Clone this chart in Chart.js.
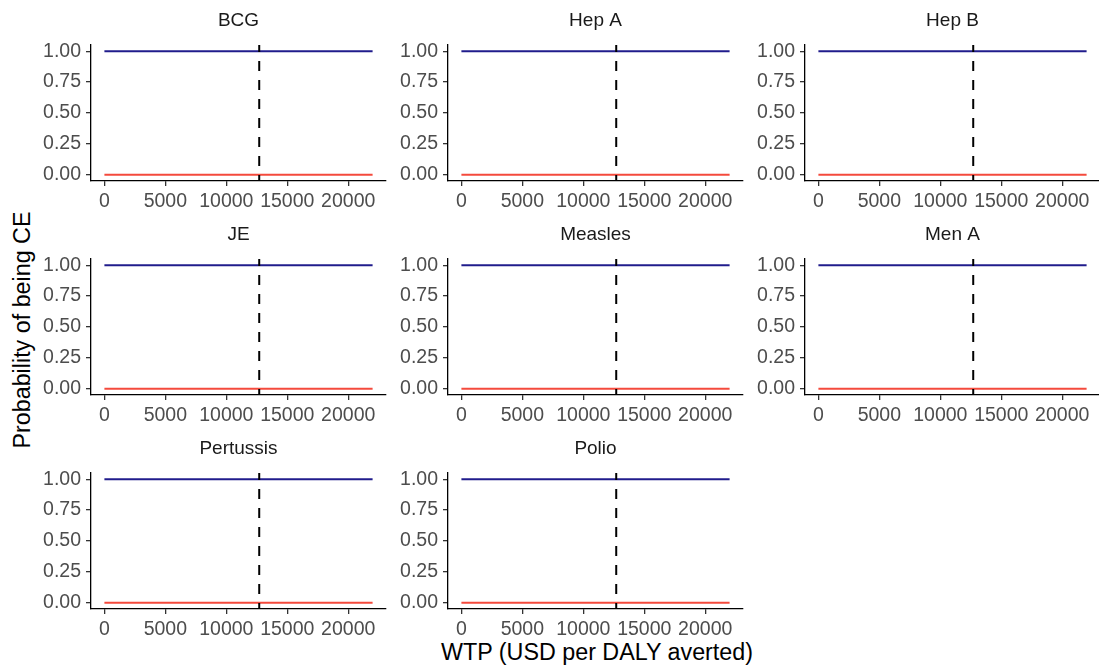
<!DOCTYPE html>
<html>
<head>
<meta charset="utf-8">
<script src="https://cdn.jsdelivr.net/npm/chart.js@4"></script>
<style>
  body { margin: 0; background: #fff; overflow: hidden; width: 1099px; height: 666px; position: relative; }
  .panel { position: absolute; }
  .axis-title { position: absolute; font-family: "Liberation Sans", Arial, sans-serif; font-size: 23.3px; color: #000; white-space: nowrap; }
</style>
</head>
<body>
<div class="axis-title" id="ytitle">Probability of being CE</div>
<div class="axis-title" id="xtitle">WTP (USD per DALY averted)</div>

<script>
// data
const vaccines = ['BCG', 'Hep A', 'Hep B', 'JE', 'Measles', 'Men A', 'Pertussis', 'Polio'];
const wtp = [0, 22000];
// probability CE, one pair of values (at wtp[0], wtp[1]) per vaccine
const probVaccinate = [[1, 1], [1, 1], [1, 1], [1, 1], [1, 1], [1, 1], [1, 1], [1, 1]];
const probNoVaccine = [[0, 0], [0, 0], [0, 0], [0, 0], [0, 0], [0, 0], [0, 0], [0, 0]];
const wtpThreshold = 12700;
const xTicks = [0, 5000, 10000, 15000, 20000];
const yTicks = [0, 0.25, 0.5, 0.75, 1];

const FONT = '"Liberation Sans", Arial, sans-serif';
const panelLeft = [91, 448, 805];
const panelTop = [45, 259, 473];
const plotW = 295, plotH = 136;
const yAxisW = 91, titleH = 40, xAxisH = 40, padR = 12;

const vline = {
    id: 'vline',
    afterDatasetsDraw(chart) {
        const { ctx, chartArea, scales } = chart;
        const px = scales.x.getPixelForValue(wtpThreshold);
        ctx.save();
        ctx.setLineDash([10, 9]);
        ctx.lineDashOffset = 3;
        ctx.strokeStyle = '#000';
        ctx.lineWidth = 2;
        ctx.beginPath();
        ctx.moveTo(px, chartArea.top);
        ctx.lineTo(px, chartArea.bottom);
        ctx.stroke();
        ctx.restore();
    }
};

vaccines.forEach(function (name, i) {
    const r = Math.floor(i / 3), c = i % 3;
    const wrap = document.createElement('div');
    wrap.className = 'panel';
    const w = yAxisW + plotW + padR, h = titleH + plotH + xAxisH;
    wrap.style.left = (panelLeft[c] - yAxisW) + 'px';
    wrap.style.top = (panelTop[r] - titleH) + 'px';
    wrap.style.width = w + 'px';
    wrap.style.height = h + 'px';
    const cv = document.createElement('canvas');
    cv.width = w; cv.height = h;
    wrap.appendChild(cv);
    document.body.appendChild(wrap);

    new Chart(cv, {
        type: 'line',
        data: {
            datasets: [{
                label: 'No vaccination',
                data: wtp.map((x, k) => ({ x: x, y: probNoVaccine[i][k] })),
                borderColor: '#F44A3C',
                borderWidth: 2,
                pointRadius: 0,
                tension: 0
            }, {
                label: 'Vaccination',
                data: wtp.map((x, k) => ({ x: x, y: probVaccinate[i][k] })),
                borderColor: '#201C8C',
                borderWidth: 2,
                pointRadius: 0,
                tension: 0
            }]
        },
        options: {
            responsive: false,
            animation: false,
            devicePixelRatio: 1,
            layout: { padding: { left: 0, right: padR, top: 0, bottom: 0 } },
            plugins: {
                legend: { display: false },
                tooltip: { enabled: false },
                title: {
                    display: true,
                    text: name,
                    fullSize: false,
                    color: '#1A1A1A',
                    font: { family: FONT, size: 19, weight: 'normal', lineHeight: 1.2 },
                    padding: { top: 4, bottom: 13.2 }
                }
            },
            scales: {
                x: {
                    type: 'linear',
                    min: -1100,
                    max: 23100,
                    afterBuildTicks: s => { s.ticks = xTicks.map(v => ({ value: v })); },
                    afterFit: s => { s.height = xAxisH; },
                    ticks: {
                        color: '#4D4D4D',
                        font: { family: FONT, size: 19.5 },
                        padding: 3.5,
                        maxRotation: 0,
                        callback: v => String(v)
                    },
                    grid: { drawOnChartArea: false, drawTicks: true, tickLength: 5, color: '#333', lineWidth: 1.3 },
                    border: { display: true, color: '#000', width: 1.3 }
                },
                y: {
                    type: 'linear',
                    min: -0.05,
                    max: 1.05,
                    afterBuildTicks: s => { s.ticks = yTicks.map(v => ({ value: v })); },
                    afterFit: s => { s.width = yAxisW; },
                    ticks: {
                        color: '#4D4D4D',
                        font: { family: FONT, size: 19.5 },
                        padding: 5,
                        callback: v => v.toFixed(2)
                    },
                    grid: { drawOnChartArea: false, drawTicks: true, tickLength: 5, color: '#333', lineWidth: 1.3 },
                    border: { display: true, color: '#000', width: 1.3 }
                }
            }
        },
        plugins: [vline]
    });
});

// shared axis titles
const yt = document.getElementById('ytitle');
yt.style.left = '22px';
yt.style.top = '330px';
yt.style.transform = 'translate(-50%, -50%) rotate(-90deg)';
const xt = document.getElementById('xtitle');
xt.style.left = '597px';
xt.style.top = '652px';
xt.style.transform = 'translate(-50%, -50%)';
</script>
</body>
</html>
